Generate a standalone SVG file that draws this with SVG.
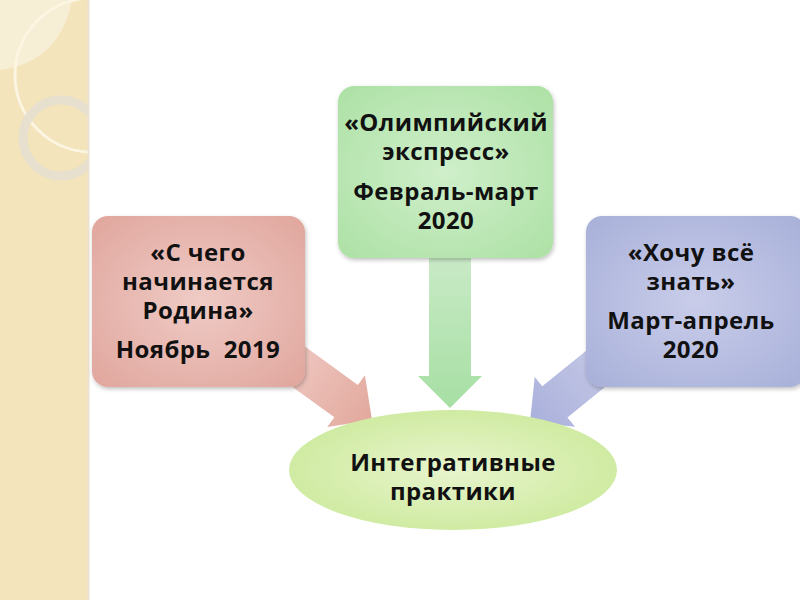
<svg xmlns="http://www.w3.org/2000/svg" width="800" height="600" viewBox="0 0 800 600">
  <style>
    .t { font-family: "Open Sans", "DejaVu Sans", sans-serif; font-weight: 700; font-size: 24px; letter-spacing: 0.4px; fill: #111; text-anchor: middle; }
  </style>
  <defs>
    <radialGradient id="gPink" cx="0.5" cy="0.5" r="0.7">
      <stop offset="0" stop-color="#efcbc5"/>
      <stop offset="1" stop-color="#e0a69d"/>
    </radialGradient>
    <radialGradient id="gGreen" cx="0.5" cy="0.5" r="0.7">
      <stop offset="0" stop-color="#cfefca"/>
      <stop offset="1" stop-color="#ade1a5"/>
    </radialGradient>
    <radialGradient id="gBlue" cx="0.5" cy="0.5" r="0.7">
      <stop offset="0" stop-color="#c9cdea"/>
      <stop offset="1" stop-color="#a8b0d9"/>
    </radialGradient>
    <radialGradient id="gEll" cx="0.5" cy="0.5" r="0.6">
      <stop offset="0" stop-color="#e8f5cd"/>
      <stop offset="1" stop-color="#cbe99a"/>
    </radialGradient>
    <linearGradient id="aPink" gradientUnits="userSpaceOnUse" x1="-100" y1="0" x2="0" y2="0">
      <stop offset="0" stop-color="#eec6bf"/>
      <stop offset="1" stop-color="#e2a89d"/>
    </linearGradient>
    <linearGradient id="aGreen" gradientUnits="userSpaceOnUse" x1="-160" y1="0" x2="0" y2="0">
      <stop offset="0" stop-color="#cbebc8"/>
      <stop offset="1" stop-color="#a6dfa3"/>
    </linearGradient>
    <linearGradient id="aBlue" gradientUnits="userSpaceOnUse" x1="-100" y1="0" x2="0" y2="0">
      <stop offset="0" stop-color="#c4c8e6"/>
      <stop offset="1" stop-color="#a9b0db"/>
    </linearGradient>
    <filter id="sh" x="-10%" y="-10%" width="125%" height="130%">
      <feDropShadow dx="1" dy="2" stdDeviation="2" flood-color="#000" flood-opacity="0.25"/>
    </filter>
    <clipPath id="side"><rect x="0" y="0" width="88" height="600"/></clipPath>
  </defs>

  <rect width="800" height="600" fill="#fff"/>

  <g id="sidebar">
    <rect x="0" y="0" width="88" height="600" fill="#f3e4bc"/>
    <g clip-path="url(#side)">
      <path d="M0,0 L72,0 Q60,62 0,70 Z" fill="#f7eed6"/>
      <circle cx="92" cy="75" r="77" fill="none" stroke="#fbf5e2" stroke-width="3"/>
      <circle cx="61" cy="138" r="38" fill="none" stroke="#e6dfcf" stroke-width="9" opacity="0.9"/>
    </g>
    <line x1="88.5" y1="0" x2="88.5" y2="600" stroke="#e9e2d0" stroke-width="2"/>
  </g>

  <g id="connectors">
    <polygon transform="translate(372,420) rotate(36)" points="0,0 -32,-32 -32,-20 -100,-20 -100,20 -32,20 -32,32" fill="url(#aPink)"/>
    <polygon transform="translate(450,408) rotate(90)" points="0,0 -32,-32 -32,-21 -160,-21 -160,21 -32,21 -32,32" fill="url(#aGreen)"/>
    <polygon transform="translate(530,422) rotate(141)" points="0,0 -32,-32 -32,-20 -100,-20 -100,20 -32,20 -32,32" fill="url(#aBlue)"/>
  </g>

  <g id="node-pink">
    <rect x="92" y="216" width="213" height="171" rx="16" fill="url(#gPink)" filter="url(#sh)"/>
    <text class="t" x="198" y="261">«С чего</text>
    <text class="t" x="198" y="290">начинается</text>
    <text class="t" x="198" y="319">Родина»</text>
    <text class="t" x="198" y="358" xml:space="preserve">Ноябрь  2019</text>
  </g>

  <g id="node-green">
    <rect x="338" y="86" width="215" height="172" rx="16" fill="url(#gGreen)" filter="url(#sh)"/>
    <text class="t" x="446" y="131">«Олимпийский</text>
    <text class="t" x="446" y="160">экспресс»</text>
    <text class="t" x="446" y="200">Февраль-март</text>
    <text class="t" x="446" y="229">2020</text>
  </g>

  <g id="node-blue">
    <rect x="586" y="216" width="220" height="171" rx="16" fill="url(#gBlue)" filter="url(#sh)"/>
    <text class="t" x="691" y="261">«Хочу всё</text>
    <text class="t" x="691" y="290">знать»</text>
    <text class="t" x="691" y="329">Март-апрель</text>
    <text class="t" x="691" y="358">2020</text>
  </g>

  <g id="node-center">
    <ellipse cx="453" cy="470" rx="164" ry="60" fill="url(#gEll)"/>
    <text class="t" x="453" y="471">Интегративные</text>
    <text class="t" x="453" y="500">практики</text>
  </g>
</svg>
